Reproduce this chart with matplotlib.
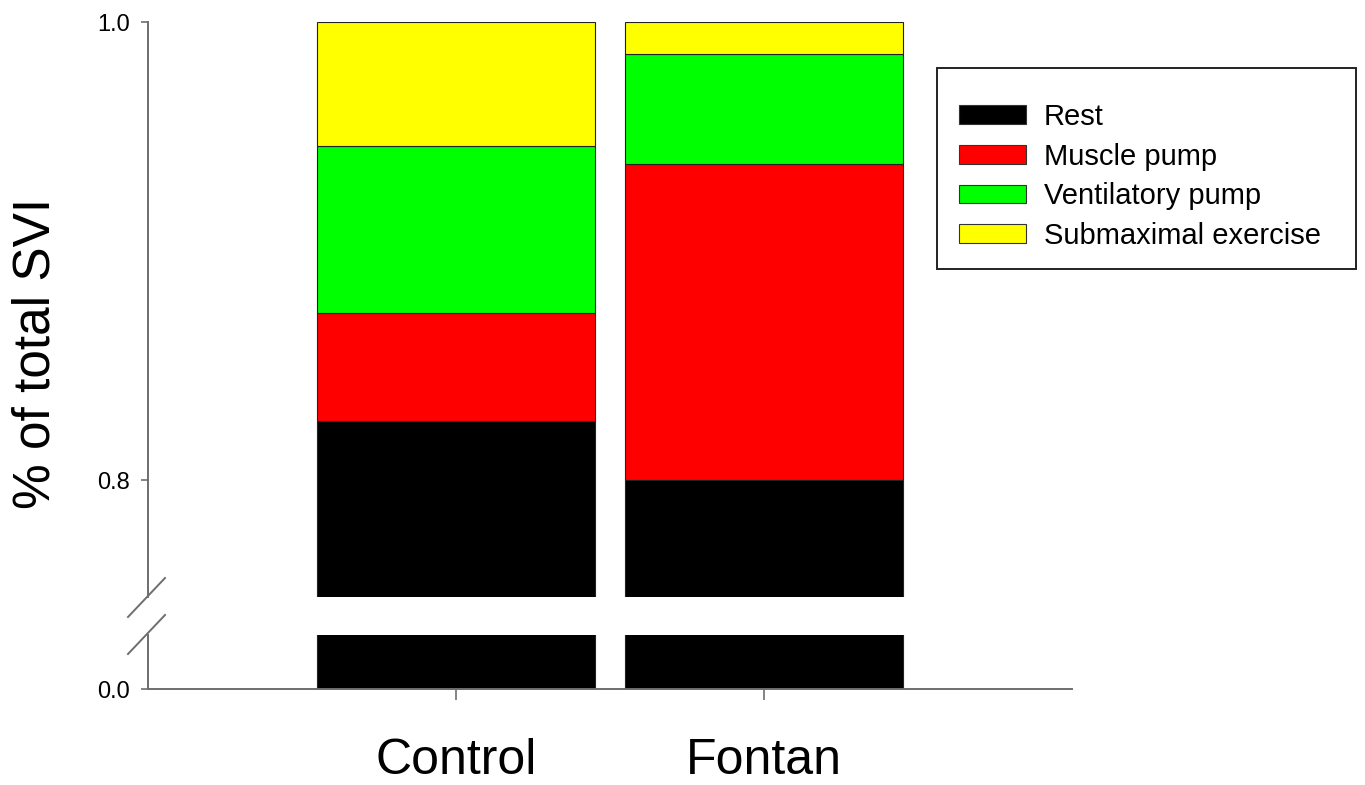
import matplotlib.pyplot as plt
from matplotlib.lines import Line2D
from matplotlib.patches import Patch, Rectangle

plt.rcParams['font.family'] = ['Liberation Sans', 'DejaVu Sans']

groups = ["Control", "Fontan"]
components = ["Rest", "Muscle pump", "Ventilatory pump", "Submaximal exercise"]
colors = ["#000000", "#ff0000", "#00ff00", "#ffff00"]

# fraction of total SVI for each component (stacked)
rest = [0.826, 0.800]
muscle = [0.047, 0.138]
ventilatory = [0.073, 0.048]
submaximal = [0.054, 0.014]
series = [rest, muscle, ventilatory, submaximal]

spine_col = "#6e6e6e"

fig = plt.figure(figsize=(13.65, 7.85), dpi=100)
W, H = 1365, 785

def px_axes(left, top, right, bottom):
    return fig.add_axes([left / W, 1 - bottom / H, (right - left) / W, (bottom - top) / H])

ax_top = px_axes(148, 22, 1072, 597)
ax_bot = px_axes(148, 635, 1072, 689)

x = list(range(len(groups)))
for ax in (ax_top, ax_bot):
    bottom = [0.0] * len(groups)
    for vals, col, name in zip(series, colors, components):
        ax.bar(x, vals, width=0.9, bottom=bottom, color=col, edgecolor="#222222",
               linewidth=0.8, label=name)
        bottom = [b + v for b, v in zip(bottom, vals)]
    ax.set_xlim(-1, 2)
    ax.spines["top"].set_visible(False)
    ax.spines["right"].set_visible(False)
    ax.spines["left"].set_color(spine_col)
    ax.spines["bottom"].set_color(spine_col)
    ax.spines["left"].set_linewidth(1.4)
    ax.spines["bottom"].set_linewidth(1.4)
    ax.tick_params(axis="y", direction="out", length=5, width=1.2, color=spine_col,
                   labelsize=17, pad=8)

ax_top.set_ylim(0.749, 1.0)
ax_top.set_yticks([0.8, 1.0])
ax_top.set_yticklabels(["0.8", "1.0"])
ax_top.spines["bottom"].set_visible(False)
ax_top.set_xticks([])

ax_bot.set_ylim(0, 0.03)
ax_bot.set_yticks([0.0])
ax_bot.set_yticklabels(["0.0"])
ax_bot.set_xticks(x)
ax_bot.set_xticklabels(groups)
ax_bot.tick_params(axis="x", direction="out", length=8, width=1.2, color=spine_col,
                   labelsize=36, pad=27)

# break marks on the y axis
for y0 in (617, 654):
    fig.add_artist(Line2D([128 / W, 165 / W], [1 - y0 / H, 1 - (y0 - 39) / H],
                          color=spine_col, linewidth=1.4))

fig.text(36 / W, 1 - 353 / H, "% of total SVI", rotation=90, ha="center", va="center",
         fontsize=37)

# legend: entries without frame, frame drawn as a separate box
handles = [Patch(facecolor=c, edgecolor="#333333", linewidth=0.8) for c in colors]
leg = fig.legend(handles, components, loc="upper left",
                 bbox_to_anchor=(959 / W, 1 - 103 / H), borderaxespad=0, borderpad=0,
                 fontsize=21, frameon=False, handlelength=2.3, handleheight=0.6,
                 labelspacing=0.4, handletextpad=0.6)
fig.add_artist(Rectangle((937 / W, 1 - 269 / H), (1356 - 937) / W, (269 - 68) / H,
                         transform=fig.transFigure, fill=False, edgecolor="#222222",
                         linewidth=1.4))

fig.savefig("out.png", dpi=100)
